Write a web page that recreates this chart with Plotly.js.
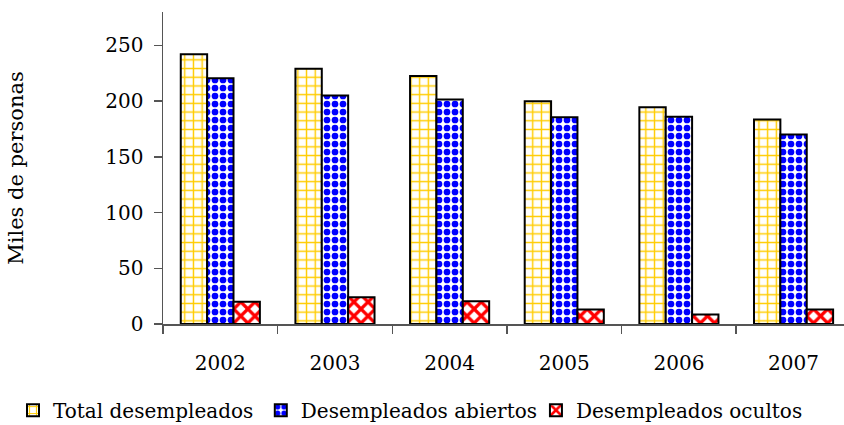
<!DOCTYPE html>
<html>
<head>
<meta charset="utf-8">
<script src="https://cdn.plot.ly/plotly-3.0.1.min.js"></script>
<style>html,body{margin:0;padding:0;background:#fff;}#chart{width:844px;height:425px;}</style>
</head>
<body>
<div id="chart"></div>
<script>
var years = ["2002", "2003", "2004", "2005", "2006", "2007"];
var totalDesempleados = [242, 229, 222.5, 200, 194.5, 183.5];
var desempleadosAbiertos = [220.5, 205, 201.5, 185.5, 186, 170];
var desempleadosOcultos = [20, 24, 20.5, 13, 8.5, 13];
var seriesNames = ["Total desempleados", "Desempleados abiertos", "Desempleados ocultos"];
var yTicks = [0, 50, 100, 150, 200, 250];

var FONT = "DejaVu Serif";
var outline = {color: "#000", width: 2};

var traces = [
  {type: "bar", name: seriesNames[0], x: years, y: totalDesempleados, legend: "legend",
   marker: {color: "#FFCC00", line: outline,
            pattern: {shape: "+", fgcolor: "#FFCC00", bgcolor: "#FFFFFF", size: 8.7, solidity: 0.3}}},
  {type: "bar", name: seriesNames[1], x: years, y: desempleadosAbiertos, legend: "legend2",
   marker: {color: "#0000FF", line: outline,
            pattern: {shape: ".", fgcolor: "#0000FF", bgcolor: "#FFFFFF", size: 8, solidity: 0.55}}},
  {type: "bar", name: seriesNames[2], x: years, y: desempleadosOcultos, legend: "legend3",
   marker: {color: "#FF0000", line: outline,
            pattern: {shape: "x", fgcolor: "#FF0000", bgcolor: "#FFFFFF", size: 10, solidity: 0.55}}}
];

function legendAt(x) {
  return {orientation: "h", xref: "container", yref: "container",
          x: x, xanchor: "left", y: 0.035, yanchor: "middle",
          bgcolor: "rgba(0,0,0,0)",
          font: {family: FONT, size: 20, color: "#000"},
          itemclick: false};
}

var layout = {
  width: 844, height: 425,
  margin: {l: 163, r: 0, t: 12, b: 101},
  paper_bgcolor: "#fff", plot_bgcolor: "#fff",
  font: {family: FONT, size: 20, color: "#000"},
  barmode: "group", bargap: 0.31, bargroupgap: 0,
  showlegend: true,
  legend: legendAt(0.0154),
  legend2: legendAt(0.309),
  legend3: legendAt(0.635),
  xaxis: {type: "category", range: [-0.5, 5.44], tickson: "boundaries",
          showline: true, linecolor: "#555", linewidth: 1.5,
          ticks: "outside", ticklen: 8, tickcolor: "#555", tickwidth: 1.5,
          showgrid: false, zeroline: false, ticklabelstandoff: 20,
          tickfont: {family: FONT, size: 20, color: "#000"}},
  yaxis: {range: [0, 280], tickvals: yTicks, ticktext: yTicks.map(String),
          showline: true, linecolor: "#555", linewidth: 1.5,
          ticks: "outside", ticklen: 8, tickcolor: "#555", tickwidth: 1.5,
          showgrid: false, zeroline: false, ticklabelstandoff: 6,
          tickfont: {family: FONT, size: 20, color: "#000"},
          title: {text: "Miles de personas", standoff: 76,
                  font: {family: FONT, size: 21, color: "#000"}}}
};

Plotly.newPlot("chart", traces, layout, {displayModeBar: false, staticPlot: true});
</script>
</body>
</html>
